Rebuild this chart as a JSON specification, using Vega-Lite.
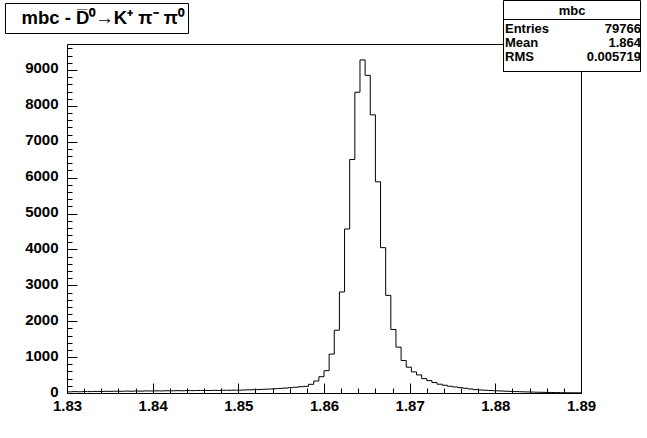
{
  "$schema": "https://vega.github.io/schema/vega-lite/v6.json",
  "width": 514,
  "height": 349,
  "autosize": "none",
  "padding": {"left": 67, "top": 44, "right": 66, "bottom": 45},
  "background": "white",
  "config": {
    "view": {"stroke": "black", "strokeWidth": 1, "fill": "white"},
    "font": "Liberation Sans",
    "axis": {"domain": false, "grid": false, "tickColor": "black", "tickWidth": 1, "labelColor": "black", "labelFont": "Liberation Sans", "labelFontWeight": "bold", "labelFontSize": 15, "title": null},
    "legend": {"symbolSize": 1, "symbolOpacity": 0, "symbolStrokeWidth": 0, "symbolOffset": 0, "labelOffset": -1, "labelFont": "Liberation Sans", "labelFontWeight": "bold", "labelColor": "black", "labelLimit": 400, "titleFont": "Liberation Sans", "titleFontWeight": "bold", "titleColor": "black", "orient": "none", "direction": "vertical"}
  },
  "datasets": {
    "hist": [
      {"mbc": 1.8300, "entries": 32}, {"mbc": 1.8306, "entries": 38}, {"mbc": 1.8312, "entries": 35}, {"mbc": 1.8318, "entries": 41},
      {"mbc": 1.8324, "entries": 39}, {"mbc": 1.8330, "entries": 44}, {"mbc": 1.8336, "entries": 42}, {"mbc": 1.8342, "entries": 47},
      {"mbc": 1.8348, "entries": 45}, {"mbc": 1.8354, "entries": 50}, {"mbc": 1.8360, "entries": 48}, {"mbc": 1.8366, "entries": 53},
      {"mbc": 1.8372, "entries": 50}, {"mbc": 1.8378, "entries": 55}, {"mbc": 1.8384, "entries": 53}, {"mbc": 1.8390, "entries": 58},
      {"mbc": 1.8396, "entries": 56}, {"mbc": 1.8402, "entries": 60}, {"mbc": 1.8408, "entries": 58}, {"mbc": 1.8414, "entries": 63},
      {"mbc": 1.8420, "entries": 61}, {"mbc": 1.8426, "entries": 65}, {"mbc": 1.8432, "entries": 63}, {"mbc": 1.8438, "entries": 68},
      {"mbc": 1.8444, "entries": 66}, {"mbc": 1.8450, "entries": 70}, {"mbc": 1.8456, "entries": 72}, {"mbc": 1.8462, "entries": 69},
      {"mbc": 1.8468, "entries": 74}, {"mbc": 1.8474, "entries": 72}, {"mbc": 1.8480, "entries": 77}, {"mbc": 1.8486, "entries": 75},
      {"mbc": 1.8492, "entries": 80}, {"mbc": 1.8498, "entries": 78}, {"mbc": 1.8504, "entries": 84}, {"mbc": 1.8510, "entries": 88},
      {"mbc": 1.8516, "entries": 93}, {"mbc": 1.8522, "entries": 98}, {"mbc": 1.8528, "entries": 104}, {"mbc": 1.8534, "entries": 111},
      {"mbc": 1.8540, "entries": 119}, {"mbc": 1.8546, "entries": 128}, {"mbc": 1.8552, "entries": 138}, {"mbc": 1.8558, "entries": 149},
      {"mbc": 1.8564, "entries": 161}, {"mbc": 1.8570, "entries": 174}, {"mbc": 1.8576, "entries": 186}, {"mbc": 1.8582, "entries": 242},
      {"mbc": 1.8588, "entries": 334}, {"mbc": 1.8594, "entries": 454}, {"mbc": 1.8600, "entries": 622}, {"mbc": 1.8606, "entries": 1084},
      {"mbc": 1.8612, "entries": 1750}, {"mbc": 1.8618, "entries": 2815}, {"mbc": 1.8624, "entries": 4570}, {"mbc": 1.8630, "entries": 6505},
      {"mbc": 1.8636, "entries": 8380}, {"mbc": 1.8642, "entries": 9280}, {"mbc": 1.8648, "entries": 8850}, {"mbc": 1.8654, "entries": 7750},
      {"mbc": 1.8660, "entries": 5885}, {"mbc": 1.8666, "entries": 4050}, {"mbc": 1.8672, "entries": 2720}, {"mbc": 1.8678, "entries": 1770},
      {"mbc": 1.8684, "entries": 1278}, {"mbc": 1.8690, "entries": 904}, {"mbc": 1.8696, "entries": 720}, {"mbc": 1.8702, "entries": 588},
      {"mbc": 1.8708, "entries": 504}, {"mbc": 1.8714, "entries": 400}, {"mbc": 1.8720, "entries": 345}, {"mbc": 1.8726, "entries": 290},
      {"mbc": 1.8732, "entries": 245}, {"mbc": 1.8738, "entries": 216}, {"mbc": 1.8744, "entries": 188}, {"mbc": 1.8750, "entries": 168},
      {"mbc": 1.8756, "entries": 149}, {"mbc": 1.8762, "entries": 132}, {"mbc": 1.8768, "entries": 112}, {"mbc": 1.8774, "entries": 93},
      {"mbc": 1.8780, "entries": 84}, {"mbc": 1.8786, "entries": 76}, {"mbc": 1.8792, "entries": 69}, {"mbc": 1.8798, "entries": 62},
      {"mbc": 1.8804, "entries": 56}, {"mbc": 1.8810, "entries": 50}, {"mbc": 1.8816, "entries": 44}, {"mbc": 1.8822, "entries": 39},
      {"mbc": 1.8828, "entries": 34}, {"mbc": 1.8834, "entries": 30}, {"mbc": 1.8840, "entries": 26}, {"mbc": 1.8846, "entries": 22},
      {"mbc": 1.8852, "entries": 19}, {"mbc": 1.8858, "entries": 16}, {"mbc": 1.8864, "entries": 13}, {"mbc": 1.8870, "entries": 11},
      {"mbc": 1.8876, "entries": 9}, {"mbc": 1.8882, "entries": 7}, {"mbc": 1.8888, "entries": 6}, {"mbc": 1.8894, "entries": 5},
      {"mbc": 1.8900, "entries": 5}
    ],
    "titleData": [{"t": "mbc - D̅⁰→K⁺ π⁻ π⁰"}],
    "stats": [{"s": "Entries"}, {"s": "Mean"}, {"s": "RMS"}, {"s": "79766"}, {"s": "1.864"}, {"s": "0.005719"}]
  },
  "layer": [
    {
      "data": {"name": "hist"},
      "mark": {"type": "line", "interpolate": "step-after", "color": "black", "strokeWidth": 1},
      "encoding": {
        "x": {"field": "mbc", "type": "quantitative", "scale": {"domain": [1.83, 1.89], "nice": false, "zero": false},
              "axis": {"orient": "bottom", "values": [1.83, 1.84, 1.85, 1.86, 1.87, 1.88, 1.89], "format": ".2f", "tickSize": -10, "labelPadding": 15, "labelFlush": false, "labelBound": false, "labelOverlap": false}},
        "y": {"field": "entries", "type": "quantitative", "scale": {"domain": [0, 9724], "nice": false, "zero": true},
              "axis": {"orient": "left", "values": [0, 1000, 2000, 3000, 4000, 5000, 6000, 7000, 8000, 9000], "format": "d", "tickSize": -10, "labelPadding": 19, "labelOffset": -2, "labelOverlap": false}}
      }
    },
    {
      "data": {"name": "hist"},
      "mark": {"type": "line", "interpolate": "step-after", "opacity": 0},
      "encoding": {
        "x": {"field": "mbc", "type": "quantitative",
              "axis": {"orient": "bottom", "values": [1.832, 1.834, 1.836, 1.838, 1.842, 1.844, 1.846, 1.848, 1.852, 1.854, 1.856, 1.858, 1.862, 1.864, 1.866, 1.868, 1.872, 1.874, 1.876, 1.878, 1.882, 1.884, 1.886, 1.888], "tickSize": -5, "labels": false}},
        "y": {"field": "entries", "type": "quantitative",
              "axis": {"orient": "left", "values": [200, 400, 600, 800, 1200, 1400, 1600, 1800, 2200, 2400, 2600, 2800, 3200, 3400, 3600, 3800, 4200, 4400, 4600, 4800, 5200, 5400, 5600, 5800, 6200, 6400, 6600, 6800, 7200, 7400, 7600, 7800, 8200, 8400, 8600, 8800, 9200, 9400, 9600], "tickSize": -5, "labels": false}}
      }
    },
    {
      "data": {"name": "stats"},
      "mark": {"type": "point", "size": 0, "opacity": 0},
      "encoding": {
        "color": {"field": "s", "type": "nominal", "scale": {"domain": ["Entries", "Mean", "RMS", "79766", "1.864", "0.005719"], "range": ["black"]},
          "legend": {"legendX": 436, "legendY": -44, "title": "mbc", "titleAnchor": "middle", "titleFontSize": 13, "titlePadding": 6,
                     "columns": 2, "columnPadding": 103, "rowPadding": 0, "clipHeight": 14,
                     "labelFontSize": 13, "labelExpr": "' '",
                     "padding": 5, "strokeColor": "black", "fillColor": "white", "zindex": 0}}
      }
    },
    {
      "data": {"name": "stats"},
      "mark": {"type": "point", "size": 0, "opacity": 0},
      "encoding": {
        "stroke": {"field": "s", "type": "nominal", "sort": null, "scale": {"range": ["black"]},
          "legend": {"legendX": 436, "legendY": -25, "title": null,
                     "columns": 2, "columnPadding": 103, "rowPadding": 0, "clipHeight": 14,
                     "labelFontSize": 13, "labelExpr": "' '",
                     "padding": 5, "strokeColor": "black", "zindex": 1}}
      }
    },
    {
      "data": {"name": "stats"},
      "mark": {"type": "point", "size": 0, "opacity": 0},
      "encoding": {
        "shape": {"field": "s", "type": "nominal", "scale": {"domain": ["Entries", "Mean", "RMS"]},
          "legend": {"legendX": 426, "legendY": -22, "title": null, "rowPadding": 0, "clipHeight": 14,
                     "labelFontSize": 13, "padding": 0, "zindex": 2}}
      }
    },
    {
      "data": {"name": "stats"},
      "mark": {"type": "point", "size": 0, "opacity": 0},
      "encoding": {
        "strokeDash": {"field": "s", "type": "nominal", "scale": {"domain": ["79766", "1.864", "0.005719"]},
          "legend": {"legendX": 508, "legendY": -22, "title": null, "rowPadding": 0, "clipHeight": 14,
                     "labelFontSize": 13, "labelAlign": "right", "labelOffset": 53, "padding": 0, "zindex": 2}}
      }
    },
    {
      "data": {"name": "titleData"},
      "mark": {"type": "point", "size": 0, "opacity": 0},
      "encoding": {
        "fill": {"field": "t", "type": "nominal", "scale": {"range": ["black"]},
          "legend": {"legendX": -62, "legendY": -41, "title": null,
                     "labelFontSize": 18.5, "labelOffset": -6, "clipHeight": 22,
                     "padding": 4, "strokeColor": "black", "fillColor": "white", "zindex": 2}}
      }
    }
  ],
  "resolve": {"axis": {"x": "independent", "y": "independent"}}
}
